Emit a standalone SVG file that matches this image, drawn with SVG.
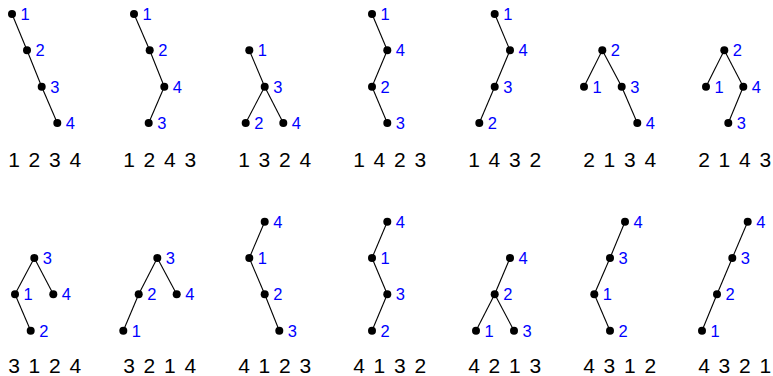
<svg xmlns="http://www.w3.org/2000/svg" width="773" height="376" viewBox="0 0 773 376">
<style>
.n circle{fill:#000}
.n text{font-family:"Liberation Sans",Arial,sans-serif;font-size:16.5px;fill:#0000ff}
.e line{stroke:#000;stroke-width:1.1}
.w{font-family:"Liberation Sans",Arial,sans-serif;font-size:21px;fill:#000;word-spacing:2.9px}
</style>
<rect width="773" height="376" fill="#fff"/>
<g class="e" id="connectors">
<line x1="12" y1="14" x2="27" y2="50.3"/><line x1="27" y1="50.3" x2="41.7" y2="86.7"/><line x1="41.7" y1="86.7" x2="57.3" y2="123"/>
<line x1="134" y1="14" x2="149.7" y2="50.3"/><line x1="149.7" y1="50.3" x2="164.3" y2="86.7"/><line x1="164.3" y1="86.7" x2="148.7" y2="123"/>
<line x1="249.3" y1="50.3" x2="264.7" y2="86.7"/><line x1="264.7" y1="86.7" x2="245.7" y2="123"/><line x1="264.7" y1="86.7" x2="283.3" y2="123"/>
<line x1="372" y1="14" x2="387.3" y2="50.3"/><line x1="387.3" y1="50.3" x2="372" y2="86.7"/><line x1="372" y1="86.7" x2="387.3" y2="123"/>
<line x1="494.7" y1="14" x2="510" y2="50.3"/><line x1="510" y1="50.3" x2="494.7" y2="86.7"/><line x1="494.7" y1="86.7" x2="479.3" y2="123"/>
<line x1="602.3" y1="50.3" x2="584" y2="86.7"/><line x1="602.3" y1="50.3" x2="621.7" y2="86.7"/><line x1="621.7" y1="86.7" x2="637.3" y2="123"/>
<line x1="724.3" y1="50.3" x2="706" y2="86.7"/><line x1="724.3" y1="50.3" x2="743.3" y2="86.7"/><line x1="743.3" y1="86.7" x2="728.3" y2="123"/>
<line x1="34.3" y1="258" x2="15" y2="294.3"/><line x1="34.3" y1="258" x2="53.3" y2="294.3"/><line x1="15" y1="294.3" x2="30.7" y2="330.7"/>
<line x1="157.3" y1="258" x2="138.7" y2="294.3"/><line x1="157.3" y1="258" x2="176.7" y2="294.3"/><line x1="138.7" y1="294.3" x2="123.3" y2="330.7"/>
<line x1="264.7" y1="221.7" x2="249.3" y2="258"/><line x1="249.3" y1="258" x2="264.7" y2="294.3"/><line x1="264.7" y1="294.3" x2="279.3" y2="330.7"/>
<line x1="387.3" y1="221.7" x2="372" y2="258"/><line x1="372" y1="258" x2="387.3" y2="294.3"/><line x1="387.3" y1="294.3" x2="372" y2="330.7"/>
<line x1="510" y1="258" x2="494.7" y2="294.3"/><line x1="494.7" y1="294.3" x2="476" y2="330.7"/><line x1="494.7" y1="294.3" x2="514" y2="330.7"/>
<line x1="625" y1="221.7" x2="610" y2="258"/><line x1="610" y1="258" x2="594.3" y2="294.3"/><line x1="594.3" y1="294.3" x2="610" y2="330.7"/>
<line x1="747.7" y1="221.7" x2="732.3" y2="258"/><line x1="732.3" y1="258" x2="717" y2="294.3"/><line x1="717" y1="294.3" x2="702" y2="330.7"/>
</g>
<g class="n" id="t1-n1"><circle cx="12" cy="14" r="4"/><text x="20.5" y="20">1</text></g>
<g class="n" id="t1-n2"><circle cx="27" cy="50.3" r="4"/><text x="35.5" y="56.3">2</text></g>
<g class="n" id="t1-n3"><circle cx="41.7" cy="86.7" r="4"/><text x="50.2" y="92.7">3</text></g>
<g class="n" id="t1-n4"><circle cx="57.3" cy="123" r="4"/><text x="65.8" y="129">4</text></g>
<g class="n" id="t2-n1"><circle cx="134" cy="14" r="4"/><text x="142.5" y="20">1</text></g>
<g class="n" id="t2-n2"><circle cx="149.7" cy="50.3" r="4"/><text x="158.2" y="56.3">2</text></g>
<g class="n" id="t2-n4"><circle cx="164.3" cy="86.7" r="4"/><text x="172.8" y="92.7">4</text></g>
<g class="n" id="t2-n3"><circle cx="148.7" cy="123" r="4"/><text x="157.2" y="129">3</text></g>
<g class="n" id="t3-n1"><circle cx="249.3" cy="50.3" r="4"/><text x="257.8" y="56.3">1</text></g>
<g class="n" id="t3-n3"><circle cx="264.7" cy="86.7" r="4"/><text x="273.2" y="92.7">3</text></g>
<g class="n" id="t3-n2"><circle cx="245.7" cy="123" r="4"/><text x="254.2" y="129">2</text></g>
<g class="n" id="t3-n4"><circle cx="283.3" cy="123" r="4"/><text x="291.8" y="129">4</text></g>
<g class="n" id="t4-n1"><circle cx="372" cy="14" r="4"/><text x="380.5" y="20">1</text></g>
<g class="n" id="t4-n4"><circle cx="387.3" cy="50.3" r="4"/><text x="395.8" y="56.3">4</text></g>
<g class="n" id="t4-n2"><circle cx="372" cy="86.7" r="4"/><text x="380.5" y="92.7">2</text></g>
<g class="n" id="t4-n3"><circle cx="387.3" cy="123" r="4"/><text x="395.8" y="129">3</text></g>
<g class="n" id="t5-n1"><circle cx="494.7" cy="14" r="4"/><text x="503.2" y="20">1</text></g>
<g class="n" id="t5-n4"><circle cx="510" cy="50.3" r="4"/><text x="518.5" y="56.3">4</text></g>
<g class="n" id="t5-n3"><circle cx="494.7" cy="86.7" r="4"/><text x="503.2" y="92.7">3</text></g>
<g class="n" id="t5-n2"><circle cx="479.3" cy="123" r="4"/><text x="487.8" y="129">2</text></g>
<g class="n" id="t6-n2"><circle cx="602.3" cy="50.3" r="4"/><text x="610.8" y="56.3">2</text></g>
<g class="n" id="t6-n1"><circle cx="584" cy="86.7" r="4"/><text x="592.5" y="92.7">1</text></g>
<g class="n" id="t6-n3"><circle cx="621.7" cy="86.7" r="4"/><text x="630.2" y="92.7">3</text></g>
<g class="n" id="t6-n4"><circle cx="637.3" cy="123" r="4"/><text x="645.8" y="129">4</text></g>
<g class="n" id="t7-n2"><circle cx="724.3" cy="50.3" r="4"/><text x="732.8" y="56.3">2</text></g>
<g class="n" id="t7-n1"><circle cx="706" cy="86.7" r="4"/><text x="714.5" y="92.7">1</text></g>
<g class="n" id="t7-n4"><circle cx="743.3" cy="86.7" r="4"/><text x="751.8" y="92.7">4</text></g>
<g class="n" id="t7-n3"><circle cx="728.3" cy="123" r="4"/><text x="736.8" y="129">3</text></g>
<g class="n" id="t8-n3"><circle cx="34.3" cy="258" r="4"/><text x="42.8" y="264">3</text></g>
<g class="n" id="t8-n1"><circle cx="15" cy="294.3" r="4"/><text x="23.5" y="300.3">1</text></g>
<g class="n" id="t8-n4"><circle cx="53.3" cy="294.3" r="4"/><text x="61.8" y="300.3">4</text></g>
<g class="n" id="t8-n2"><circle cx="30.7" cy="330.7" r="4"/><text x="39.2" y="336.7">2</text></g>
<g class="n" id="t9-n3"><circle cx="157.3" cy="258" r="4"/><text x="165.8" y="264">3</text></g>
<g class="n" id="t9-n2"><circle cx="138.7" cy="294.3" r="4"/><text x="147.2" y="300.3">2</text></g>
<g class="n" id="t9-n4"><circle cx="176.7" cy="294.3" r="4"/><text x="185.2" y="300.3">4</text></g>
<g class="n" id="t9-n1"><circle cx="123.3" cy="330.7" r="4"/><text x="131.8" y="336.7">1</text></g>
<g class="n" id="t10-n4"><circle cx="264.7" cy="221.7" r="4"/><text x="273.2" y="227.7">4</text></g>
<g class="n" id="t10-n1"><circle cx="249.3" cy="258" r="4"/><text x="257.8" y="264">1</text></g>
<g class="n" id="t10-n2"><circle cx="264.7" cy="294.3" r="4"/><text x="273.2" y="300.3">2</text></g>
<g class="n" id="t10-n3"><circle cx="279.3" cy="330.7" r="4"/><text x="287.8" y="336.7">3</text></g>
<g class="n" id="t11-n4"><circle cx="387.3" cy="221.7" r="4"/><text x="395.8" y="227.7">4</text></g>
<g class="n" id="t11-n1"><circle cx="372" cy="258" r="4"/><text x="380.5" y="264">1</text></g>
<g class="n" id="t11-n3"><circle cx="387.3" cy="294.3" r="4"/><text x="395.8" y="300.3">3</text></g>
<g class="n" id="t11-n2"><circle cx="372" cy="330.7" r="4"/><text x="380.5" y="336.7">2</text></g>
<g class="n" id="t12-n4"><circle cx="510" cy="258" r="4"/><text x="518.5" y="264">4</text></g>
<g class="n" id="t12-n2"><circle cx="494.7" cy="294.3" r="4"/><text x="503.2" y="300.3">2</text></g>
<g class="n" id="t12-n1"><circle cx="476" cy="330.7" r="4"/><text x="484.5" y="336.7">1</text></g>
<g class="n" id="t12-n3"><circle cx="514" cy="330.7" r="4"/><text x="522.5" y="336.7">3</text></g>
<g class="n" id="t13-n4"><circle cx="625" cy="221.7" r="4"/><text x="633.5" y="227.7">4</text></g>
<g class="n" id="t13-n3"><circle cx="610" cy="258" r="4"/><text x="618.5" y="264">3</text></g>
<g class="n" id="t13-n1"><circle cx="594.3" cy="294.3" r="4"/><text x="602.8" y="300.3">1</text></g>
<g class="n" id="t13-n2"><circle cx="610" cy="330.7" r="4"/><text x="618.5" y="336.7">2</text></g>
<g class="n" id="t14-n4"><circle cx="747.7" cy="221.7" r="4"/><text x="756.2" y="227.7">4</text></g>
<g class="n" id="t14-n3"><circle cx="732.3" cy="258" r="4"/><text x="740.8" y="264">3</text></g>
<g class="n" id="t14-n2"><circle cx="717" cy="294.3" r="4"/><text x="725.5" y="300.3">2</text></g>
<g class="n" id="t14-n1"><circle cx="702" cy="330.7" r="4"/><text x="710.5" y="336.7">1</text></g>
<g id="captions">
<text class="w" x="8.2" y="167">1 2 3 4</text>
<text class="w" x="123.2" y="167">1 2 4 3</text>
<text class="w" x="238.2" y="167">1 3 2 4</text>
<text class="w" x="353.2" y="167">1 4 2 3</text>
<text class="w" x="468.2" y="167">1 4 3 2</text>
<text class="w" x="583.2" y="167">2 1 3 4</text>
<text class="w" x="698.2" y="167">2 1 4 3</text>
<text class="w" x="8.2" y="373">3 1 2 4</text>
<text class="w" x="123.2" y="373">3 2 1 4</text>
<text class="w" x="238.2" y="373">4 1 2 3</text>
<text class="w" x="353.2" y="373">4 1 3 2</text>
<text class="w" x="468.2" y="373">4 2 1 3</text>
<text class="w" x="583.2" y="373">4 3 1 2</text>
<text class="w" x="698.2" y="373">4 3 2 1</text>
</g>
</svg>
